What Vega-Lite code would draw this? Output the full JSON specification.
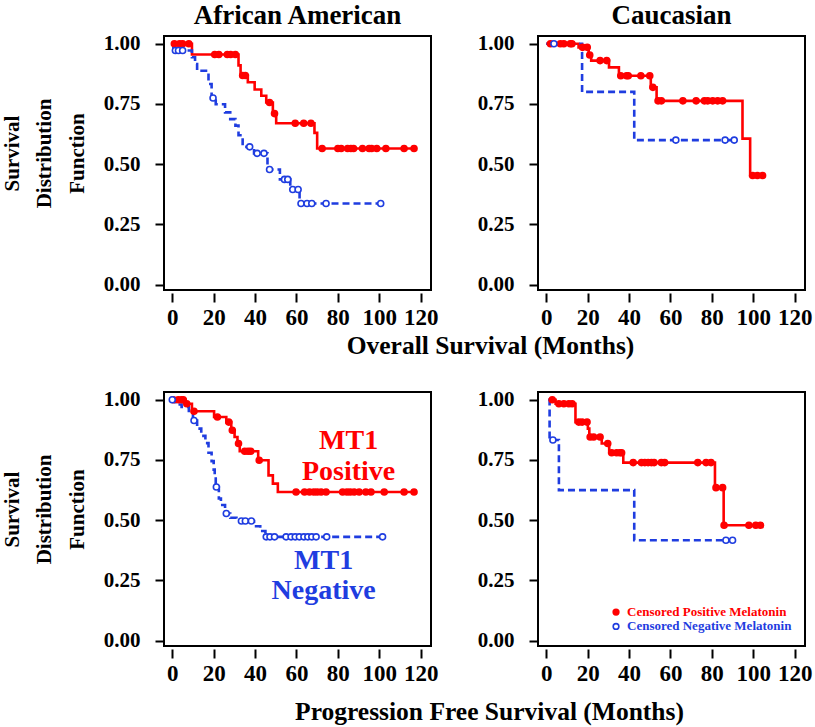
{
  "$schema": "https://vega.github.io/schema/vega-lite/v6.json",
  "background": "white",
  "padding": {"left": 0, "top": 0, "right": 5, "bottom": 0},
  "autosize": {"type": "pad"},
  "datasets": {
    "curves": [
      {"p":"aa_os","g":"pos","t":0,"s":1},{"p":"aa_os","g":"pos","t":9.5,"s":0.955},{"p":"aa_os","g":"pos","t":32,"s":0.91},{"p":"aa_os","g":"pos","t":33,"s":0.868},{"p":"aa_os","g":"pos","t":36.5,"s":0.84},{"p":"aa_os","g":"pos","t":39.8,"s":0.81},{"p":"aa_os","g":"pos","t":43,"s":0.784},{"p":"aa_os","g":"pos","t":45.4,"s":0.756},{"p":"aa_os","g":"pos","t":48.6,"s":0.71},{"p":"aa_os","g":"pos","t":50.2,"s":0.67},{"p":"aa_os","g":"pos","t":68.7,"s":0.63},{"p":"aa_os","g":"pos","t":70,"s":0.565},{"p":"aa_os","g":"pos","t":116.8,"s":0.565},
      {"p":"aa_os","g":"neg","t":0,"s":1},{"p":"aa_os","g":"neg","t":0.5,"s":0.972},{"p":"aa_os","g":"neg","t":9.5,"s":0.944},{"p":"aa_os","g":"neg","t":11,"s":0.916},{"p":"aa_os","g":"neg","t":12,"s":0.888},{"p":"aa_os","g":"neg","t":17.5,"s":0.833},{"p":"aa_os","g":"neg","t":19,"s":0.775},{"p":"aa_os","g":"neg","t":21,"s":0.749},{"p":"aa_os","g":"neg","t":25.5,"s":0.715},{"p":"aa_os","g":"neg","t":28,"s":0.687},{"p":"aa_os","g":"neg","t":30.5,"s":0.66},{"p":"aa_os","g":"neg","t":32,"s":0.62},{"p":"aa_os","g":"neg","t":34,"s":0.572},{"p":"aa_os","g":"neg","t":39.5,"s":0.545},{"p":"aa_os","g":"neg","t":46,"s":0.478},{"p":"aa_os","g":"neg","t":52,"s":0.437},{"p":"aa_os","g":"neg","t":57,"s":0.395},{"p":"aa_os","g":"neg","t":61.5,"s":0.337},{"p":"aa_os","g":"neg","t":100.7,"s":0.337},
      {"p":"ca_os","g":"pos","t":0,"s":1},{"p":"ca_os","g":"pos","t":15.6,"s":0.985},{"p":"ca_os","g":"pos","t":20.5,"s":0.953},{"p":"ca_os","g":"pos","t":21.7,"s":0.93},{"p":"ca_os","g":"pos","t":30.3,"s":0.902},{"p":"ca_os","g":"pos","t":35.1,"s":0.867},{"p":"ca_os","g":"pos","t":50.5,"s":0.819},{"p":"ca_os","g":"pos","t":53.3,"s":0.763},{"p":"ca_os","g":"pos","t":94.8,"s":0.606},{"p":"ca_os","g":"pos","t":98.5,"s":0.453},{"p":"ca_os","g":"pos","t":104.5,"s":0.453},
      {"p":"ca_os","g":"neg","t":0,"s":1},{"p":"ca_os","g":"neg","t":17.3,"s":0.8},{"p":"ca_os","g":"neg","t":42.5,"s":0.6},{"p":"ca_os","g":"neg","t":90.8,"s":0.6},
      {"p":"aa_pfs","g":"pos","t":0,"s":1},{"p":"aa_pfs","g":"pos","t":6.5,"s":0.983},{"p":"aa_pfs","g":"pos","t":9.5,"s":0.952},{"p":"aa_pfs","g":"pos","t":20.2,"s":0.928},{"p":"aa_pfs","g":"pos","t":26.1,"s":0.907},{"p":"aa_pfs","g":"pos","t":28.5,"s":0.873},{"p":"aa_pfs","g":"pos","t":30.1,"s":0.845},{"p":"aa_pfs","g":"pos","t":31.5,"s":0.818},{"p":"aa_pfs","g":"pos","t":32.6,"s":0.786},{"p":"aa_pfs","g":"pos","t":41.5,"s":0.749},{"p":"aa_pfs","g":"pos","t":46.5,"s":0.686},{"p":"aa_pfs","g":"pos","t":48.6,"s":0.652},{"p":"aa_pfs","g":"pos","t":51,"s":0.617},{"p":"aa_pfs","g":"pos","t":116.8,"s":0.617},
      {"p":"aa_pfs","g":"neg","t":0,"s":1},{"p":"aa_pfs","g":"neg","t":1.5,"s":0.98},{"p":"aa_pfs","g":"neg","t":4.5,"s":0.97},{"p":"aa_pfs","g":"neg","t":8,"s":0.945},{"p":"aa_pfs","g":"neg","t":10,"s":0.914},{"p":"aa_pfs","g":"neg","t":12,"s":0.88},{"p":"aa_pfs","g":"neg","t":14,"s":0.85},{"p":"aa_pfs","g":"neg","t":16,"s":0.82},{"p":"aa_pfs","g":"neg","t":17.5,"s":0.78},{"p":"aa_pfs","g":"neg","t":19,"s":0.745},{"p":"aa_pfs","g":"neg","t":20,"s":0.71},{"p":"aa_pfs","g":"neg","t":20.5,"s":0.68},{"p":"aa_pfs","g":"neg","t":21,"s":0.638},{"p":"aa_pfs","g":"neg","t":22.5,"s":0.59},{"p":"aa_pfs","g":"neg","t":23.5,"s":0.563},{"p":"aa_pfs","g":"neg","t":25.5,"s":0.528},{"p":"aa_pfs","g":"neg","t":28,"s":0.51},{"p":"aa_pfs","g":"neg","t":31,"s":0.497},{"p":"aa_pfs","g":"neg","t":39.5,"s":0.475},{"p":"aa_pfs","g":"neg","t":42.5,"s":0.455},{"p":"aa_pfs","g":"neg","t":45,"s":0.431},{"p":"aa_pfs","g":"neg","t":101.6,"s":0.431},
      {"p":"ca_pfs","g":"pos","t":1,"s":1},{"p":"ca_pfs","g":"pos","t":4.5,"s":0.983},{"p":"ca_pfs","g":"pos","t":14.1,"s":0.907},{"p":"ca_pfs","g":"pos","t":20.1,"s":0.88},{"p":"ca_pfs","g":"pos","t":20.8,"s":0.845},{"p":"ca_pfs","g":"pos","t":26.8,"s":0.818},{"p":"ca_pfs","g":"pos","t":30.4,"s":0.78},{"p":"ca_pfs","g":"pos","t":37.2,"s":0.739},{"p":"ca_pfs","g":"pos","t":81.5,"s":0.635},{"p":"ca_pfs","g":"pos","t":85.7,"s":0.479},{"p":"ca_pfs","g":"pos","t":103.5,"s":0.479},
      {"p":"ca_pfs","g":"neg","t":1,"s":1},{"p":"ca_pfs","g":"neg","t":1.6,"s":0.833},{"p":"ca_pfs","g":"neg","t":6.1,"s":0.625},{"p":"ca_pfs","g":"neg","t":42.5,"s":0.417},{"p":"ca_pfs","g":"neg","t":90,"s":0.417}
    ],
    "cens": [
      {"p":"aa_os","g":"pos","t":1,"s":1},{"p":"aa_os","g":"pos","t":3.5,"s":1},{"p":"aa_os","g":"pos","t":5,"s":1},{"p":"aa_os","g":"pos","t":8,"s":1},{"p":"aa_os","g":"pos","t":20.5,"s":0.955},{"p":"aa_os","g":"pos","t":22.5,"s":0.955},{"p":"aa_os","g":"pos","t":26.6,"s":0.955},{"p":"aa_os","g":"pos","t":28.2,"s":0.955},{"p":"aa_os","g":"pos","t":30.5,"s":0.955},{"p":"aa_os","g":"pos","t":34,"s":0.868},{"p":"aa_os","g":"pos","t":35.3,"s":0.868},{"p":"aa_os","g":"pos","t":47,"s":0.756},{"p":"aa_os","g":"pos","t":49.4,"s":0.71},{"p":"aa_os","g":"pos","t":59.4,"s":0.67},{"p":"aa_os","g":"pos","t":63.5,"s":0.67},{"p":"aa_os","g":"pos","t":67,"s":0.67},{"p":"aa_os","g":"pos","t":72.4,"s":0.565},{"p":"aa_os","g":"pos","t":80,"s":0.565},{"p":"aa_os","g":"pos","t":81.6,"s":0.565},{"p":"aa_os","g":"pos","t":84.7,"s":0.565},{"p":"aa_os","g":"pos","t":86.3,"s":0.565},{"p":"aa_os","g":"pos","t":87.6,"s":0.565},{"p":"aa_os","g":"pos","t":91.9,"s":0.565},{"p":"aa_os","g":"pos","t":95.1,"s":0.565},{"p":"aa_os","g":"pos","t":96.3,"s":0.565},{"p":"aa_os","g":"pos","t":98.8,"s":0.565},{"p":"aa_os","g":"pos","t":103.2,"s":0.565},{"p":"aa_os","g":"pos","t":112,"s":0.565},{"p":"aa_os","g":"pos","t":116.8,"s":0.565},
      {"p":"aa_os","g":"neg","t":1.5,"s":0.972},{"p":"aa_os","g":"neg","t":3,"s":0.972},{"p":"aa_os","g":"neg","t":5,"s":0.972},{"p":"aa_os","g":"neg","t":19.7,"s":0.775},{"p":"aa_os","g":"neg","t":37.4,"s":0.572},{"p":"aa_os","g":"neg","t":41,"s":0.545},{"p":"aa_os","g":"neg","t":44.3,"s":0.545},{"p":"aa_os","g":"neg","t":47,"s":0.478},{"p":"aa_os","g":"neg","t":54.2,"s":0.437},{"p":"aa_os","g":"neg","t":55.8,"s":0.437},{"p":"aa_os","g":"neg","t":58.2,"s":0.395},{"p":"aa_os","g":"neg","t":60.8,"s":0.395},{"p":"aa_os","g":"neg","t":62.2,"s":0.337},{"p":"aa_os","g":"neg","t":65.1,"s":0.337},{"p":"aa_os","g":"neg","t":67.4,"s":0.337},{"p":"aa_os","g":"neg","t":74.3,"s":0.337},{"p":"aa_os","g":"neg","t":100.7,"s":0.337},
      {"p":"ca_os","g":"pos","t":2,"s":1},{"p":"ca_os","g":"pos","t":6.8,"s":1},{"p":"ca_os","g":"pos","t":8.5,"s":1},{"p":"ca_os","g":"pos","t":11.6,"s":1},{"p":"ca_os","g":"pos","t":12.4,"s":1},{"p":"ca_os","g":"pos","t":17.5,"s":0.985},{"p":"ca_os","g":"pos","t":19.8,"s":0.985},{"p":"ca_os","g":"pos","t":21,"s":0.953},{"p":"ca_os","g":"pos","t":26,"s":0.93},{"p":"ca_os","g":"pos","t":29.2,"s":0.93},{"p":"ca_os","g":"pos","t":36,"s":0.867},{"p":"ca_os","g":"pos","t":38.8,"s":0.867},{"p":"ca_os","g":"pos","t":39.6,"s":0.867},{"p":"ca_os","g":"pos","t":45.7,"s":0.867},{"p":"ca_os","g":"pos","t":50,"s":0.867},{"p":"ca_os","g":"pos","t":51.5,"s":0.819},{"p":"ca_os","g":"pos","t":54,"s":0.763},{"p":"ca_os","g":"pos","t":55.6,"s":0.763},{"p":"ca_os","g":"pos","t":66,"s":0.763},{"p":"ca_os","g":"pos","t":72.4,"s":0.763},{"p":"ca_os","g":"pos","t":76.4,"s":0.763},{"p":"ca_os","g":"pos","t":78,"s":0.763},{"p":"ca_os","g":"pos","t":80.4,"s":0.763},{"p":"ca_os","g":"pos","t":82.8,"s":0.763},{"p":"ca_os","g":"pos","t":85.2,"s":0.763},{"p":"ca_os","g":"pos","t":99.7,"s":0.453},{"p":"ca_os","g":"pos","t":102,"s":0.453},{"p":"ca_os","g":"pos","t":104.5,"s":0.453},
      {"p":"ca_os","g":"neg","t":3.7,"s":1},{"p":"ca_os","g":"neg","t":62.6,"s":0.6},{"p":"ca_os","g":"neg","t":86.4,"s":0.6},{"p":"ca_os","g":"neg","t":90.8,"s":0.6},
      {"p":"aa_pfs","g":"pos","t":0.5,"s":1},{"p":"aa_pfs","g":"pos","t":2.9,"s":1},{"p":"aa_pfs","g":"pos","t":4.5,"s":1},{"p":"aa_pfs","g":"pos","t":5.3,"s":1},{"p":"aa_pfs","g":"pos","t":7,"s":0.983},{"p":"aa_pfs","g":"pos","t":10.5,"s":0.952},{"p":"aa_pfs","g":"pos","t":21.8,"s":0.928},{"p":"aa_pfs","g":"pos","t":27.3,"s":0.907},{"p":"aa_pfs","g":"pos","t":29,"s":0.873},{"p":"aa_pfs","g":"pos","t":32,"s":0.818},{"p":"aa_pfs","g":"pos","t":35,"s":0.786},{"p":"aa_pfs","g":"pos","t":36.6,"s":0.786},{"p":"aa_pfs","g":"pos","t":37.9,"s":0.786},{"p":"aa_pfs","g":"pos","t":42,"s":0.749},{"p":"aa_pfs","g":"pos","t":59.8,"s":0.617},{"p":"aa_pfs","g":"pos","t":63.9,"s":0.617},{"p":"aa_pfs","g":"pos","t":66.3,"s":0.617},{"p":"aa_pfs","g":"pos","t":68.4,"s":0.617},{"p":"aa_pfs","g":"pos","t":70,"s":0.617},{"p":"aa_pfs","g":"pos","t":71.9,"s":0.617},{"p":"aa_pfs","g":"pos","t":74.3,"s":0.617},{"p":"aa_pfs","g":"pos","t":82.3,"s":0.617},{"p":"aa_pfs","g":"pos","t":84.4,"s":0.617},{"p":"aa_pfs","g":"pos","t":86,"s":0.617},{"p":"aa_pfs","g":"pos","t":87.9,"s":0.617},{"p":"aa_pfs","g":"pos","t":90.3,"s":0.617},{"p":"aa_pfs","g":"pos","t":93.5,"s":0.617},{"p":"aa_pfs","g":"pos","t":96,"s":0.617},{"p":"aa_pfs","g":"pos","t":102.4,"s":0.617},{"p":"aa_pfs","g":"pos","t":112,"s":0.617},{"p":"aa_pfs","g":"pos","t":116.8,"s":0.617},
      {"p":"aa_pfs","g":"neg","t":0,"s":1},{"p":"aa_pfs","g":"neg","t":10.5,"s":0.914},{"p":"aa_pfs","g":"neg","t":21.3,"s":0.638},{"p":"aa_pfs","g":"neg","t":26.1,"s":0.528},{"p":"aa_pfs","g":"neg","t":33.4,"s":0.497},{"p":"aa_pfs","g":"neg","t":35.3,"s":0.497},{"p":"aa_pfs","g":"neg","t":38.2,"s":0.497},{"p":"aa_pfs","g":"neg","t":45.4,"s":0.431},{"p":"aa_pfs","g":"neg","t":47.2,"s":0.431},{"p":"aa_pfs","g":"neg","t":49.4,"s":0.431},{"p":"aa_pfs","g":"neg","t":55,"s":0.431},{"p":"aa_pfs","g":"neg","t":57.4,"s":0.431},{"p":"aa_pfs","g":"neg","t":59.4,"s":0.431},{"p":"aa_pfs","g":"neg","t":61.4,"s":0.431},{"p":"aa_pfs","g":"neg","t":63.6,"s":0.431},{"p":"aa_pfs","g":"neg","t":65.5,"s":0.431},{"p":"aa_pfs","g":"neg","t":67.4,"s":0.431},{"p":"aa_pfs","g":"neg","t":69.5,"s":0.431},{"p":"aa_pfs","g":"neg","t":74.6,"s":0.431},{"p":"aa_pfs","g":"neg","t":101.6,"s":0.431},
      {"p":"ca_pfs","g":"pos","t":2.9,"s":1},{"p":"ca_pfs","g":"pos","t":6.1,"s":0.983},{"p":"ca_pfs","g":"pos","t":8.5,"s":0.983},{"p":"ca_pfs","g":"pos","t":10.9,"s":0.983},{"p":"ca_pfs","g":"pos","t":12.5,"s":0.983},{"p":"ca_pfs","g":"pos","t":15.7,"s":0.907},{"p":"ca_pfs","g":"pos","t":17.3,"s":0.907},{"p":"ca_pfs","g":"pos","t":19.7,"s":0.907},{"p":"ca_pfs","g":"pos","t":21.2,"s":0.845},{"p":"ca_pfs","g":"pos","t":22.9,"s":0.845},{"p":"ca_pfs","g":"pos","t":26,"s":0.845},{"p":"ca_pfs","g":"pos","t":29.7,"s":0.818},{"p":"ca_pfs","g":"pos","t":31.6,"s":0.78},{"p":"ca_pfs","g":"pos","t":34,"s":0.78},{"p":"ca_pfs","g":"pos","t":35.6,"s":0.78},{"p":"ca_pfs","g":"pos","t":36.4,"s":0.78},{"p":"ca_pfs","g":"pos","t":42,"s":0.739},{"p":"ca_pfs","g":"pos","t":46,"s":0.739},{"p":"ca_pfs","g":"pos","t":47.6,"s":0.739},{"p":"ca_pfs","g":"pos","t":49.2,"s":0.739},{"p":"ca_pfs","g":"pos","t":50.8,"s":0.739},{"p":"ca_pfs","g":"pos","t":52.1,"s":0.739},{"p":"ca_pfs","g":"pos","t":55.6,"s":0.739},{"p":"ca_pfs","g":"pos","t":57.2,"s":0.739},{"p":"ca_pfs","g":"pos","t":73.2,"s":0.739},{"p":"ca_pfs","g":"pos","t":77.2,"s":0.739},{"p":"ca_pfs","g":"pos","t":79.6,"s":0.739},{"p":"ca_pfs","g":"pos","t":82,"s":0.635},{"p":"ca_pfs","g":"pos","t":85.2,"s":0.635},{"p":"ca_pfs","g":"pos","t":85.9,"s":0.479},{"p":"ca_pfs","g":"pos","t":97.9,"s":0.479},{"p":"ca_pfs","g":"pos","t":101.2,"s":0.479},{"p":"ca_pfs","g":"pos","t":103.5,"s":0.479},
      {"p":"ca_pfs","g":"neg","t":3.2,"s":0.833},{"p":"ca_pfs","g":"neg","t":86.8,"s":0.417},{"p":"ca_pfs","g":"neg","t":90,"s":0.417}
    ]
  },
  "columns": 2,
  "spacing": {"row": 102, "column": 107},
  "bounds": "flush",
  "concat": [
    {
      "width": 267, "height": 254,
      "title": {"text": "African American", "frame": "group", "anchor": "middle", "offset": 3},
      "layer": [
        {"data": {"name": "curves"}, "transform": [{"filter": "datum.p === 'aa_os'"}],
         "mark": {"type": "line", "interpolate": "step-after", "strokeWidth": 2.6},
         "encoding": {
           "x": {"field": "t", "type": "quantitative", "scale": {"domain": [-4, 125], "nice": false, "zero": false},
                 "axis": {"values": [0,20,40,60,80,100,120], "title": "Overall Survival (Months)", "titleFontSize": 25.5, "titleX": 326, "titleY": 60, "titleAlign": "center", "titleBaseline": "alphabetic"}},
           "y": {"field": "s", "type": "quantitative", "scale": {"domain": [-0.022, 1.032], "nice": false, "zero": false},
                 "axis": {"values": [0,0.25,0.5,0.75,1], "format": ".2f", "title": ["Survival","Distribution","Function"], "titleFontSize": 21, "titleLineHeight": 32.5, "titlePadding": 16, "titleY": 117}},
           "color": {"field": "g", "type": "nominal", "scale": {"domain": ["pos","neg"], "range": ["#ff0000","#1f3de0"]}, "legend": null},
           "strokeDash": {"field": "g", "type": "nominal", "scale": {"domain": ["pos","neg"], "range": [[1,0],[7,4]]}, "legend": null}}},
        {"data": {"name": "cens"}, "transform": [{"filter": "datum.p === 'aa_os'"}],
         "mark": {"type": "point", "shape": "circle", "filled": true, "size": 36, "strokeWidth": 1.6, "opacity": 1},
         "encoding": {
           "x": {"field": "t", "type": "quantitative"},
           "y": {"field": "s", "type": "quantitative"},
           "stroke": {"field": "g", "type": "nominal", "scale": {"domain": ["pos","neg"], "range": ["#ff0000","#1f3de0"]}, "legend": null},
           "fill": {"field": "g", "type": "nominal", "scale": {"domain": ["pos","neg"], "range": ["#ff0000","#ffffff"]}, "legend": null}}}
      ]
    },
    {
      "width": 267, "height": 254,
      "title": {"text": "Caucasian", "frame": "group", "anchor": "middle", "offset": 3},
      "layer": [
        {"data": {"name": "curves"}, "transform": [{"filter": "datum.p === 'ca_os'"}],
         "mark": {"type": "line", "interpolate": "step-after", "strokeWidth": 2.6},
         "encoding": {
           "x": {"field": "t", "type": "quantitative", "scale": {"domain": [-4, 125], "nice": false, "zero": false},
                 "axis": {"values": [0,20,40,60,80,100,120], "title": null}},
           "y": {"field": "s", "type": "quantitative", "scale": {"domain": [-0.022, 1.032], "nice": false, "zero": false},
                 "axis": {"values": [0,0.25,0.5,0.75,1], "format": ".2f", "title": null}},
           "color": {"field": "g", "type": "nominal", "scale": {"domain": ["pos","neg"], "range": ["#ff0000","#1f3de0"]}, "legend": null},
           "strokeDash": {"field": "g", "type": "nominal", "scale": {"domain": ["pos","neg"], "range": [[1,0],[7,4]]}, "legend": null}}},
        {"data": {"name": "cens"}, "transform": [{"filter": "datum.p === 'ca_os'"}],
         "mark": {"type": "point", "shape": "circle", "filled": true, "size": 36, "strokeWidth": 1.6, "opacity": 1},
         "encoding": {
           "x": {"field": "t", "type": "quantitative"},
           "y": {"field": "s", "type": "quantitative"},
           "stroke": {"field": "g", "type": "nominal", "scale": {"domain": ["pos","neg"], "range": ["#ff0000","#1f3de0"]}, "legend": null},
           "fill": {"field": "g", "type": "nominal", "scale": {"domain": ["pos","neg"], "range": ["#ff0000","#ffffff"]}, "legend": null}}}
      ]
    },
    {
      "width": 267, "height": 254,
      "layer": [
        {"data": {"name": "curves"}, "transform": [{"filter": "datum.p === 'aa_pfs'"}],
         "mark": {"type": "line", "interpolate": "step-after", "strokeWidth": 2.6},
         "encoding": {
           "x": {"field": "t", "type": "quantitative", "scale": {"domain": [-4, 125], "nice": false, "zero": false},
                 "axis": {"values": [0,20,40,60,80,100,120], "title": "Progression Free Survival (Months)", "titleFontSize": 25.5, "titleX": 325, "titleY": 70, "titleAlign": "center", "titleBaseline": "alphabetic"}},
           "y": {"field": "s", "type": "quantitative", "scale": {"domain": [-0.022, 1.032], "nice": false, "zero": false},
                 "axis": {"values": [0,0.25,0.5,0.75,1], "format": ".2f", "title": ["Survival","Distribution","Function"], "titleFontSize": 21, "titleLineHeight": 32.5, "titlePadding": 16, "titleY": 117}},
           "color": {"field": "g", "type": "nominal", "scale": {"domain": ["pos","neg"], "range": ["#ff0000","#1f3de0"]}, "legend": null},
           "strokeDash": {"field": "g", "type": "nominal", "scale": {"domain": ["pos","neg"], "range": [[1,0],[7,4]]}, "legend": null}}},
        {"data": {"name": "cens"}, "transform": [{"filter": "datum.p === 'aa_pfs'"}],
         "mark": {"type": "point", "shape": "circle", "filled": true, "size": 36, "strokeWidth": 1.6, "opacity": 1},
         "encoding": {
           "x": {"field": "t", "type": "quantitative"},
           "y": {"field": "s", "type": "quantitative"},
           "stroke": {"field": "g", "type": "nominal", "scale": {"domain": ["pos","neg"], "range": ["#ff0000","#1f3de0"]}, "legend": null},
           "fill": {"field": "g", "type": "nominal", "scale": {"domain": ["pos","neg"], "range": ["#ff0000","#ffffff"]}, "legend": null}}},
        {"data": {"values": [{"lab": "MT1"}]},
         "mark": {"type": "text", "text": ["MT1","Positive"], "font": "Liberation Serif", "fontWeight": "bold", "fontSize": 28, "lineHeight": 31, "align": "center", "baseline": "alphabetic", "color": "#ff0000"},
         "encoding": {"x": {"datum": 85.2, "type": "quantitative"}, "y": {"datum": 0.795, "type": "quantitative"}}},
        {"data": {"values": [{"lab": "MT1"}]},
         "mark": {"type": "text", "text": ["MT1","Negative"], "font": "Liberation Serif", "fontWeight": "bold", "fontSize": 28, "lineHeight": 30, "align": "center", "baseline": "alphabetic", "color": "#1f3de0"},
         "encoding": {"x": {"datum": 73.1, "type": "quantitative"}, "y": {"datum": 0.297, "type": "quantitative"}}}
      ]
    },
    {
      "width": 267, "height": 254,
      "layer": [
        {"data": {"name": "curves"}, "transform": [{"filter": "datum.p === 'ca_pfs'"}],
         "mark": {"type": "line", "interpolate": "step-after", "strokeWidth": 2.6},
         "encoding": {
           "x": {"field": "t", "type": "quantitative", "scale": {"domain": [-4, 125], "nice": false, "zero": false},
                 "axis": {"values": [0,20,40,60,80,100,120], "title": null}},
           "y": {"field": "s", "type": "quantitative", "scale": {"domain": [-0.022, 1.032], "nice": false, "zero": false},
                 "axis": {"values": [0,0.25,0.5,0.75,1], "format": ".2f", "title": null}},
           "color": {"field": "g", "type": "nominal", "scale": {"domain": ["pos","neg"], "range": ["#ff0000","#1f3de0"]}, "legend": null},
           "strokeDash": {"field": "g", "type": "nominal", "scale": {"domain": ["pos","neg"], "range": [[1,0],[7,4]]}, "legend": null}}},
        {"data": {"name": "cens"}, "transform": [{"filter": "datum.p === 'ca_pfs'"}],
         "mark": {"type": "point", "shape": "circle", "filled": true, "size": 36, "strokeWidth": 1.6, "opacity": 1},
         "encoding": {
           "x": {"field": "t", "type": "quantitative"},
           "y": {"field": "s", "type": "quantitative"},
           "stroke": {"field": "g", "type": "nominal", "scale": {"domain": ["pos","neg"], "range": ["#ff0000","#1f3de0"]}, "legend": null},
           "fill": {"field": "g", "type": "nominal", "scale": {"domain": ["pos","neg"], "range": ["#ff0000","#ffffff"]}, "legend": null}}},
        {"data": {"values": [{"key": "pos"}]},
         "mark": {"type": "point", "shape": "circle", "filled": true, "size": 32, "strokeWidth": 1.6, "opacity": 1, "fill": "#ff0000", "stroke": "#ff0000"},
         "encoding": {"x": {"datum": 33.7, "type": "quantitative"}, "y": {"datum": 0.119, "type": "quantitative"}}},
        {"data": {"values": [{"key": "neg"}]},
         "mark": {"type": "point", "shape": "circle", "filled": true, "size": 32, "strokeWidth": 1.6, "opacity": 1, "fill": "#ffffff", "stroke": "#1f3de0"},
         "encoding": {"x": {"datum": 33.7, "type": "quantitative"}, "y": {"datum": 0.059, "type": "quantitative"}}},
        {"data": {"values": [{"key": "pos"}]},
         "mark": {"type": "text", "text": "Censored Positive Melatonin", "font": "Liberation Serif", "fontWeight": "bold", "fontSize": 13, "align": "left", "baseline": "middle", "color": "#ff0000"},
         "encoding": {"x": {"datum": 39, "type": "quantitative"}, "y": {"datum": 0.119, "type": "quantitative"}}},
        {"data": {"values": [{"key": "neg"}]},
         "mark": {"type": "text", "text": "Censored Negative Melatonin", "font": "Liberation Serif", "fontWeight": "bold", "fontSize": 13, "align": "left", "baseline": "middle", "color": "#1f3de0"},
         "encoding": {"x": {"datum": 39, "type": "quantitative"}, "y": {"datum": 0.059, "type": "quantitative"}}}
      ]
    }
  ],
  "config": {
    "font": "Liberation Serif",
    "view": {"stroke": "#000000", "strokeWidth": 2},
    "title": {"font": "Liberation Serif", "fontWeight": "bold", "fontSize": 27, "color": "#000000"},
    "axis": {"grid": false, "domain": false, "ticks": true, "tickColor": "#000000", "tickWidth": 2, "tickSize": 9,
             "labelColor": "#000000", "labelFont": "Liberation Serif", "labelFontWeight": "bold",
             "titleFont": "Liberation Serif", "titleFontWeight": "bold", "titleColor": "#000000",
             "labelOverlap": false, "labelFlush": false},
    "axisX": {"offset": 3, "labelFontSize": 23, "labelPadding": 4, "labelAngle": 0},
    "axisY": {"labelFontSize": 21, "labelPadding": 15}
  }
}
